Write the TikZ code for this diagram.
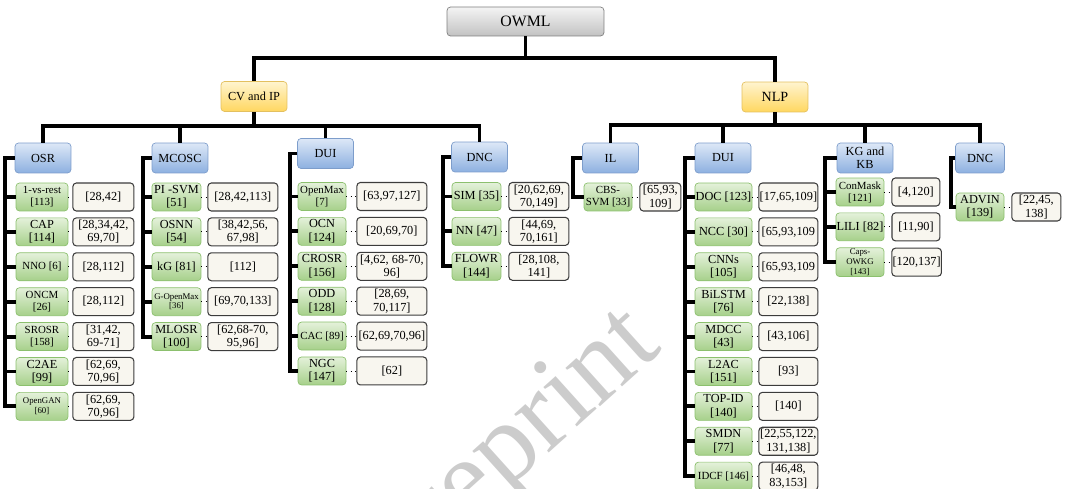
\documentclass[tikz,border=0pt]{standalone}
\usepackage{fontspec}
\setmainfont{Liberation Serif}
\usetikzlibrary{positioning}

\definecolor{graytop}{HTML}{F4F4F4}
\definecolor{graybot}{HTML}{C2C2C2}
\definecolor{grayline}{HTML}{7F7F7F}
\definecolor{yeltop}{HTML}{FFF4CF}
\definecolor{yelbot}{HTML}{FFD760}
\definecolor{yelline}{HTML}{E3C060}
\definecolor{bluetop}{HTML}{DDE8F7}
\definecolor{bluebot}{HTML}{8DB0E0}
\definecolor{blueline}{HTML}{7D9DCB}
\definecolor{greentop}{HTML}{E4F1DA}
\definecolor{greenbot}{HTML}{A6D08A}
\definecolor{greenline}{HTML}{8CC06E}
\definecolor{reffill}{HTML}{F8F6EF}
\definecolor{refline}{HTML}{3C3C3C}

\tikzset{
	box/.style={draw, rounded corners=2pt, align=center, inner xsep=0.4pt, inner ysep=0.6pt, font=\fontsize{7}{7.6}\selectfont},
	root/.style={box, draw=grayline, top color=graytop, bottom color=graybot, minimum width=157*0.569pt, minimum height=29*0.569pt, font=\fontsize{9}{10}\selectfont},
	field/.style={box, draw=yelline, top color=yeltop, bottom color=yelbot, minimum width=66*0.569pt, minimum height=30*0.569pt},
	task/.style={box, draw=blueline, top color=bluetop, bottom color=bluebot, minimum width=56*0.569pt, minimum height=30*0.569pt},
	method/.style={box, draw=greenline, top color=greentop, bottom color=greenbot, minimum width=#1*0.569pt, minimum height=28*0.569pt},
	refbox/.style={box, draw=refline, fill=reffill, line width=0.6pt, minimum width=#1*0.569pt, minimum height=28*0.569pt},
	smallfont/.style={font=\fontsize{6.2}{6.8}\selectfont},
	tinyfont/.style={font=\fontsize{5}{5.6}\selectfont},
	bar/.style={line width=2.2pt},
	dots/.style={dotted, line width=0.5pt},
}

\begin{document}
\begin{tikzpicture}[x=0.02cm, y=-0.02cm, node distance=0.124cm]
	\useasboundingbox (0,0) rectangle (1065,489);

	% watermark
	\begin{scope}
		\clip (0,0) rectangle (1065,489);
		\node[rotate=42, text=black!20, font=\fontsize{64}{64}\selectfont] (wm) at (512,452) {Preprint};
	\end{scope}

	% root and fields
	\node[root] (owml) at (525.5,21.5) {OWML};%
	\node[field] (cv) at (254,96.5) {CV and IP};%
	\node[field, font=\fontsize{8}{9}\selectfont] (nlp) at (775,97) {NLP};%

	% tasks
	\node[task] (osr) at (43,158) {OSR};%
	\node[task] (mcosc) at (180,158) {MCOSC};%
	\node[task] (cvdui) at (325.5,153.5) {DUI};%
	\node[task] (cvdnc) at (479.5,157) {DNC};%
	\node[task] (il) at (610.5,158) {IL};%
	\node[task] (nlpdui) at (723,158) {DUI};%
	\node[task] (kg) at (865,158) {KG and\\KB};%
	\node[task, minimum width=49*0.569pt] (nlpdnc) at (980,158) {DNC};%

	% OSR
	\node[method=52, smallfont] (osr1) at (42,197) {1-vs-rest\\{[113]}};%
	\node[method=52, below=of osr1] (osr2) {CAP\\{[114]}};%
	\node[method=52, smallfont, below=of osr2] (osr3) {NNO [6]};%
	\node[method=52, smallfont, below=of osr3] (osr4) {ONCM\\{[26]}};%
	\node[method=52, smallfont, below=of osr4] (osr5) {SROSR\\{[158]}};%
	\node[method=52, below=of osr5] (osr6) {C2AE\\{[99]}};%
	\node[method=52, tinyfont, below=of osr6] (osr7) {OpenGAN\\{[60]}};%
	\node[refbox=61, right=0.08cm of osr1] (osr1r) {[28,42]};%
	\node[refbox=61, right=0.08cm of osr2] (osr2r) {[28,34,42,\\69,70]};%
	\node[refbox=61, right=0.08cm of osr3] (osr3r) {[28,112]};%
	\node[refbox=61, right=0.08cm of osr4] (osr4r) {[28,112]};%
	\node[refbox=61, right=0.08cm of osr5] (osr5r) {[31,42,\\69-71]};%
	\node[refbox=61, right=0.08cm of osr6] (osr6r) {[62,69,\\70,96]};%
	\node[refbox=61, right=0.08cm of osr7] (osr7r) {[62,69,\\70,96]};%

	% MCOSC
	\node[method=49] (mcosc1) at (176.5,197) {PI -SVM\\{[51]}};%
	\node[method=49, below=of mcosc1] (mcosc2) {OSNN\\{[54]}};%
	\node[method=49, below=of mcosc2] (mcosc3) {kG [81]};%
	\node[method=49, tinyfont, below=of mcosc3] (mcosc4) {G-OpenMax\\{[36]}};%
	\node[method=49, below=of mcosc4] (mcosc5) {MLOSR\\{[100]}};%
	\node[refbox=70, right=0.12cm of mcosc1] (mcosc1r) {[28,42,113]};%
	\node[refbox=70, right=0.12cm of mcosc2] (mcosc2r) {[38,42,56,\\67,98]};%
	\node[refbox=70, right=0.12cm of mcosc3] (mcosc3r) {[112]};%
	\node[refbox=70, right=0.12cm of mcosc4] (mcosc4r) {[69,70,133]};%
	\node[refbox=70, right=0.12cm of mcosc5] (mcosc5r) {[62,68-70,\\95,96]};%

	% DUI (CV and IP)
	\node[method=48, smallfont] (cvdui1) at (322,196.5) {OpenMax\\{[7]}};%
	\node[method=48, below=of cvdui1] (cvdui2) {OCN\\{[124]}};%
	\node[method=48, below=of cvdui2] (cvdui3) {CROSR\\{[156]}};%
	\node[method=48, below=of cvdui3] (cvdui4) {ODD\\{[128]}};%
	\node[method=48, smallfont, below=of cvdui4] (cvdui5) {CAC [89]};%
	\node[method=48, below=of cvdui5] (cvdui6) {NGC\\{[147]}};%
	\node[refbox=70, right=0.2cm of cvdui1] (cvdui1r) {[63,97,127]};%
	\node[refbox=70, right=0.2cm of cvdui2] (cvdui2r) {[20,69,70]};%
	\node[refbox=70, right=0.2cm of cvdui3] (cvdui3r) {[4,62, 68-70,\\96]};%
	\node[refbox=70, right=0.2cm of cvdui4] (cvdui4r) {[28,69,\\70,117]};%
	\node[refbox=70, right=0.2cm of cvdui5] (cvdui5r) {[62,69,70,96]};%
	\node[refbox=70, right=0.2cm of cvdui6] (cvdui6r) {[62]};%

	% DNC (CV and IP)
	\node[method=49] (cvdnc1) at (476.5,196.5) {SIM [35]};%
	\node[method=49, below=of cvdnc1] (cvdnc2) {NN [47]};%
	\node[method=49, below=of cvdnc2] (cvdnc3) {FLOWR\\{[144]}};%
	\node[refbox=60, right=0.14cm of cvdnc1] (cvdnc1r) {[20,62,69,\\70,149]};%
	\node[refbox=60, right=0.14cm of cvdnc2] (cvdnc2r) {[44,69,\\70,161]};%
	\node[refbox=60, right=0.14cm of cvdnc3] (cvdnc3r) {[28,108,\\141]};%

	% IL
	\node[method=48, smallfont] (il1) at (608,197) {CBS-\\SVM [33]};%
	\node[refbox=41, right=0.14cm of il1] (il1r) {[65,93,\\109]};%

	% DUI (NLP)
	\node[method=57] (nlpdui1) at (723.5,197) {DOC [123]};%
	\node[method=57, below=of nlpdui1] (nlpdui2) {NCC [30]};%
	\node[method=57, below=of nlpdui2] (nlpdui3) {CNNs\\{[105]}};%
	\node[method=57, below=of nlpdui3] (nlpdui4) {BiLSTM\\{[76]}};%
	\node[method=57, below=of nlpdui4] (nlpdui5) {MDCC\\{[43]}};%
	\node[method=57, below=of nlpdui5] (nlpdui6) {L2AC\\{[151]}};%
	\node[method=57, below=of nlpdui6] (nlpdui7) {TOP-ID\\{[140]}};%
	\node[method=57, below=of nlpdui7] (nlpdui8) {SMDN\\{[77]}};%
	\node[method=57, smallfont, below=of nlpdui8] (nlpdui9) {IDCF [146]};%
	\node[refbox=59, right=0.12cm of nlpdui1] (nlpdui1r) {[17,65,109]};%
	\node[refbox=59, right=0.12cm of nlpdui2] (nlpdui2r) {[65,93,109};%
	\node[refbox=59, right=0.12cm of nlpdui3] (nlpdui3r) {[65,93,109};%
	\node[refbox=59, right=0.12cm of nlpdui4] (nlpdui4r) {[22,138]};%
	\node[refbox=59, right=0.12cm of nlpdui5] (nlpdui5r) {[43,106]};%
	\node[refbox=59, right=0.12cm of nlpdui6] (nlpdui6r) {[93]};%
	\node[refbox=59, right=0.12cm of nlpdui7] (nlpdui7r) {[140]};%
	\node[refbox=59, right=0.12cm of nlpdui8] (nlpdui8r) {[22,55,122,\\131,138]};%
	\node[refbox=59, right=0.12cm of nlpdui9] (nlpdui9r) {[46,48,\\83,153]};%

	% KG and KB
	\node[method=48, smallfont] (kg1) at (860,192) {ConMask\\{[121]}};%
	\node[method=48, below=of kg1] (kg2) {LILI [82]};%
	\node[method=48, tinyfont, below=of kg2] (kg3) {Caps-\\OWKG\\{[143]}};%
	\node[refbox=48, right=0.14cm of kg1] (kg1r) {[4,120]};%
	\node[refbox=48, right=0.14cm of kg2] (kg2r) {[11,90]};%
	\node[refbox=48, right=0.14cm of kg3] (kg3r) {[120,137]};%

	% DNC (NLP)
	\node[method=48] (nlpdnc1) at (980,207) {ADVIN\\{[139]}};%
	\node[refbox=49, right=0.14cm of nlpdnc1] (nlpdnc1r) {[22,45,\\138]};%

	% spines
	\coordinate (osrsp) at (5,0);
	\coordinate (mcoscsp) at (143,0);
	\coordinate (cvduisp) at (290,0);
	\coordinate (cvdncsp) at (443,0);
	\coordinate (ilsp) at (573,0);
	\coordinate (nlpduisp) at (685,0);
	\coordinate (kgsp) at (825,0);
	\coordinate (nlpdncsp) at (951,0);

	% edges
	\draw[bar] (owml.south) -- ++(0,22) coordinate (topbus);
	\draw[bar] (cv.north) |- (topbus) -| (nlp.north);

	\draw[bar] (cv.south) -- ++(0,14) coordinate (cvbus);
	\draw[bar] (osr.north) |- (cvbus) -| (cvdnc.north);
	\draw[bar] (mcosc.north) -- (mcosc.north |- cvbus);
	\draw[bar] (cvdui.north) -- (cvdui.north |- cvbus);

	\draw[bar] (nlp.south) -- ++(0,13) coordinate (nlpbus);
	\draw[bar] (il.north) |- (nlpbus) -| (nlpdnc.north);
	\draw[bar] (nlpdui.north) -- (nlpdui.north |- nlpbus);
	\draw[bar] (kg.north) -- (kg.north |- nlpbus);

	\draw[bar] (osr.west) -| (osrsp |- osr7.west) -- (osr7.west)
		(osrsp |- osr1.west) -- (osr1.west) (osrsp |- osr2.west) -- (osr2.west)
		(osrsp |- osr3.west) -- (osr3.west) (osrsp |- osr4.west) -- (osr4.west)
		(osrsp |- osr5.west) -- (osr5.west) (osrsp |- osr6.west) -- (osr6.west);
	\draw[bar] (mcosc.west) -| (mcoscsp |- mcosc5.west) -- (mcosc5.west)
		(mcoscsp |- mcosc1.west) -- (mcosc1.west) (mcoscsp |- mcosc2.west) -- (mcosc2.west)
		(mcoscsp |- mcosc3.west) -- (mcosc3.west) (mcoscsp |- mcosc4.west) -- (mcosc4.west);
	\draw[bar] (cvdui.west) -| (cvduisp |- cvdui6.west) -- (cvdui6.west)
		(cvduisp |- cvdui1.west) -- (cvdui1.west) (cvduisp |- cvdui2.west) -- (cvdui2.west)
		(cvduisp |- cvdui3.west) -- (cvdui3.west) (cvduisp |- cvdui4.west) -- (cvdui4.west)
		(cvduisp |- cvdui5.west) -- (cvdui5.west);
	\draw[bar] (cvdnc.west) -| (cvdncsp |- cvdnc3.west) -- (cvdnc3.west)
		(cvdncsp |- cvdnc1.west) -- (cvdnc1.west) (cvdncsp |- cvdnc2.west) -- (cvdnc2.west);
	\draw[bar] (il.west) -| (ilsp |- il1.west) -- (il1.west);
	\draw[bar] (nlpdui.west) -| (nlpduisp |- nlpdui9.west) -- (nlpdui9.west)
		(nlpduisp |- nlpdui1.west) -- (nlpdui1.west) (nlpduisp |- nlpdui2.west) -- (nlpdui2.west)
		(nlpduisp |- nlpdui3.west) -- (nlpdui3.west) (nlpduisp |- nlpdui4.west) -- (nlpdui4.west)
		(nlpduisp |- nlpdui5.west) -- (nlpdui5.west) (nlpduisp |- nlpdui6.west) -- (nlpdui6.west)
		(nlpduisp |- nlpdui7.west) -- (nlpdui7.west) (nlpduisp |- nlpdui8.west) -- (nlpdui8.west);
	\draw[bar] (kg.west) -| (kgsp |- kg3.west) -- (kg3.west)
		(kgsp |- kg1.west) -- (kg1.west) (kgsp |- kg2.west) -- (kg2.west);
	\draw[bar] (nlpdnc.west) -| (nlpdncsp |- nlpdnc1.west) -- (nlpdnc1.west);

	% dotted links
	\draw[dots] (osr1.east) -- (osr1r.west) (osr2.east) -- (osr2r.west)
		(osr3.east) -- (osr3r.west) (osr4.east) -- (osr4r.west)
		(osr5.east) -- (osr5r.west) (osr6.east) -- (osr6r.west)
		(osr7.east) -- (osr7r.west);
	\draw[dots] (mcosc1.east) -- (mcosc1r.west) (mcosc2.east) -- (mcosc2r.west)
		(mcosc3.east) -- (mcosc3r.west) (mcosc4.east) -- (mcosc4r.west)
		(mcosc5.east) -- (mcosc5r.west);
	\draw[dots] (cvdui1.east) -- (cvdui1r.west) (cvdui2.east) -- (cvdui2r.west)
		(cvdui3.east) -- (cvdui3r.west) (cvdui4.east) -- (cvdui4r.west)
		(cvdui5.east) -- (cvdui5r.west) (cvdui6.east) -- (cvdui6r.west);
	\draw[dots] (cvdnc1.east) -- (cvdnc1r.west) (cvdnc2.east) -- (cvdnc2r.west)
		(cvdnc3.east) -- (cvdnc3r.west);
	\draw[dots] (il1.east) -- (il1r.west);
	\draw[dots] (nlpdui1.east) -- (nlpdui1r.west) (nlpdui2.east) -- (nlpdui2r.west)
		(nlpdui3.east) -- (nlpdui3r.west) (nlpdui4.east) -- (nlpdui4r.west)
		(nlpdui5.east) -- (nlpdui5r.west) (nlpdui6.east) -- (nlpdui6r.west)
		(nlpdui7.east) -- (nlpdui7r.west) (nlpdui8.east) -- (nlpdui8r.west)
		(nlpdui9.east) -- (nlpdui9r.west);
	\draw[dots] (kg1.east) -- (kg1r.west) (kg2.east) -- (kg2r.west)
		(kg3.east) -- (kg3r.west);
	\draw[dots] (nlpdnc1.east) -- (nlpdnc1r.west);
\end{tikzpicture}
\end{document}
